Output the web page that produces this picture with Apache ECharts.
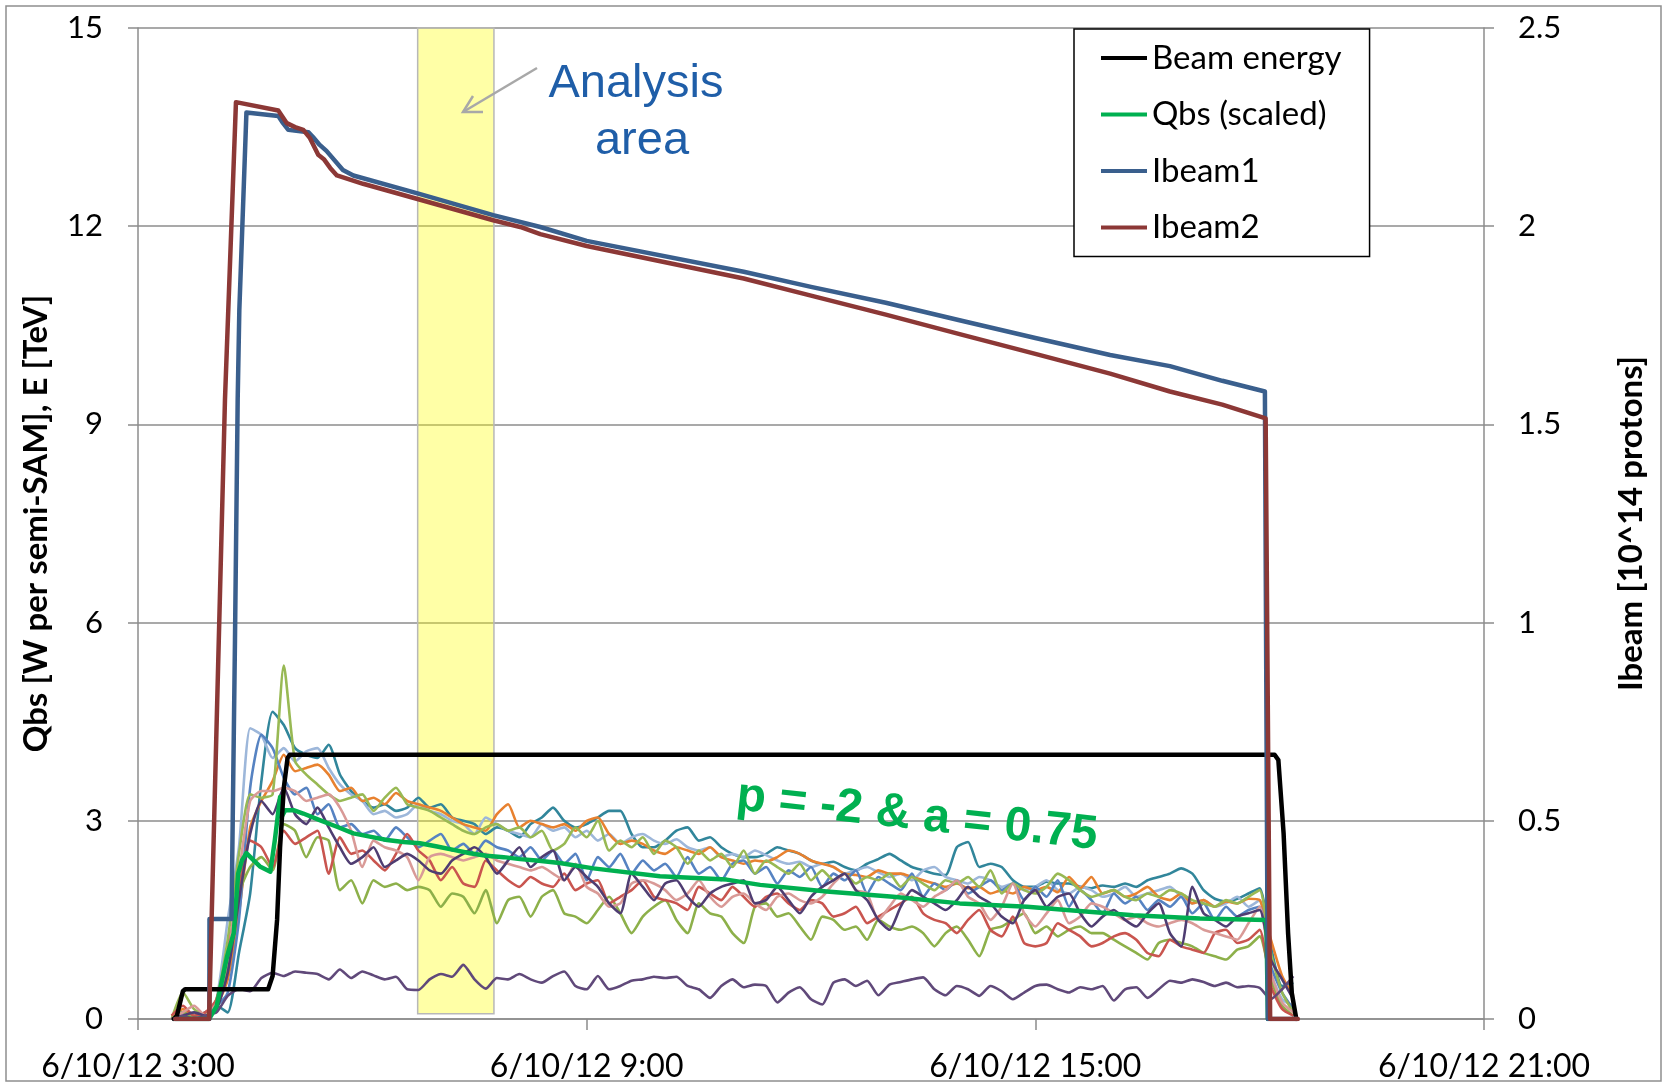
<!DOCTYPE html>
<html><head><meta charset="utf-8">
<script src="https://cdn.jsdelivr.net/npm/echarts@6/dist/echarts.min.js"></script>
<style>html,body{margin:0;padding:0;background:#fff}#c{width:1667px;height:1087px}</style>
</head><body><div id="c"></div><script>
// ---- data (hours of 6/10/12) ----
const xTicks = [3, 9, 15, 21];
const xTickLabels = ['6/10/12 3:00', '6/10/12 9:00', '6/10/12 15:00', '6/10/12 21:00'];
const analysisHours = [6.74, 7.76];
const analysisRange = [0.08, 15.04];

const beamEnergy = [[3.48,0],[3.52,0.05],[3.6,0.42],[3.63,0.45],[4.74,0.45],[4.8,0.65],[4.86,1.5],[4.9,2.6],[4.95,3.5],[5.0,3.95],[5.03,4.0],[18.2,4.0],[18.25,3.92],[18.32,2.81],[18.38,1.3],[18.43,0.39],[18.49,0]];
const qbsScaled = [[3.5,0],[3.95,0],[4.05,0.19],[4.19,0.94],[4.28,1.3],[4.34,2.2],[4.39,2.4],[4.45,2.51],[4.54,2.41],[4.63,2.31],[4.77,2.23],[4.83,2.71],[4.9,3.36],[4.92,3.06],[4.97,3.16],[5.08,3.16],[5.21,3.11],[5.43,3.01],[5.66,2.91],[5.88,2.81],[6.1,2.76],[6.33,2.71],[6.55,2.68],[6.77,2.66],[7.0,2.61],[7.22,2.56],[7.44,2.51],[7.66,2.47],[7.89,2.45],[8.11,2.42],[8.33,2.4],[8.64,2.36],[9.09,2.28],[9.98,2.16],[10.87,2.11],[11.32,2.03],[12.21,1.93],[13.1,1.85],[13.99,1.75],[14.89,1.7],[15.42,1.65],[16.31,1.57],[17.2,1.52],[18.09,1.5],[18.11,0]];
const ibeam1 = [[3.5,0],[3.954,0],[3.956,0.252],[4.25,0.252],[4.297,0.957],[4.333,1.562],[4.355,1.788],[4.45,2.287],[4.876,2.278],[4.94,2.26],[5.01,2.243],[5.28,2.237],[5.34,2.225],[5.43,2.205],[5.52,2.19],[5.74,2.142],[5.88,2.128],[6.75,2.082],[7.75,2.028],[8.38,1.998],[9.0,1.963],[11.1,1.885],[12,1.847],[13,1.807],[14,1.762],[15,1.718],[16,1.675],[16.8,1.647],[17.5,1.61],[18.07,1.583],[18.11,0],[18.5,0]];
const ibeam2 = [[3.5,0],[3.95,0],[4.163,1.562],[4.31,2.313],[4.876,2.292],[4.99,2.26],[5.10,2.25],[5.21,2.243],[5.30,2.222],[5.41,2.18],[5.49,2.168],[5.57,2.147],[5.66,2.128],[6.01,2.107],[6.75,2.068],[7.75,2.015],[8.11,1.998],[8.38,1.98],[9.0,1.95],[11.1,1.868],[12,1.825],[13,1.777],[14,1.727],[15,1.678],[16,1.628],[16.8,1.583],[17.5,1.55],[18.08,1.515],[18.14,0],[18.51,0]];

// sensor sample times (hours) shared by the individual Qbs traces
const sampleHours = [3.45,3.6,3.75,3.9,4.05,4.2,4.35,4.5,4.65,4.8,
4.95,5.1,5.25,5.4,5.55,5.7,5.85,6,6.15,6.3,
6.45,6.6,6.75,6.9,7.05,7.2,7.35,7.5,7.65,7.8,
7.95,8.1,8.25,8.4,8.55,8.7,8.85,9,9.15,9.3,
9.45,9.6,9.75,9.9,10.05,10.2,10.35,10.5,10.65,10.8,
10.95,11.1,11.25,11.4,11.55,11.7,11.85,12,12.15,12.3,
12.45,12.6,12.75,12.9,13.05,13.2,13.35,13.5,13.65,13.8,
13.95,14.1,14.25,14.4,14.55,14.7,14.85,15,15.15,15.3,
15.45,15.6,15.75,15.9,16.05,16.2,16.35,16.5,16.65,16.8,
16.95,17.1,17.25,17.4,17.55,17.7,17.85,18,18.15,18.3,
18.45];
const qTeal = [0.05,0.1,0.05,0.1,0.2,0.1,1.0,1.9,3.6,4.65,
4.45,4.1,4.0,3.95,4.15,3.7,3.45,3.3,3.2,3.25,
3.15,3.2,3.35,3.2,3.25,3.05,3.0,2.95,2.8,2.9,
2.85,2.75,2.95,3.05,3.2,3.0,2.9,2.95,3.05,3.15,
3.15,2.8,2.6,2.6,2.7,2.85,2.9,2.7,2.75,2.6,
2.5,2.45,2.45,2.5,2.6,2.55,2.5,2.4,2.35,2.38,
2.3,2.25,2.35,2.42,2.5,2.4,2.3,2.25,2.2,2.18,
2.6,2.68,2.3,2.35,2.3,2.1,2.0,2.0,2.08,2.05,
2.05,2.0,1.98,2.02,2.0,2.05,2.0,2.1,2.15,2.2,
2.28,2.2,1.95,1.82,1.78,1.82,1.9,1.98,1.1,0.5,
0.55];
const qLightBlue = [0.05,0.0,0.1,0.05,0.3,1.5,2.6,4.4,4.3,3.95,
4.1,3.9,4.05,4.1,3.8,3.55,3.4,3.3,3.1,3.15,
3.05,3.1,3.25,3.15,3.1,3.0,2.95,2.8,3.05,2.95,
2.85,2.8,2.75,2.95,2.85,2.9,2.75,2.85,2.7,2.8,
2.65,2.75,2.8,2.7,2.65,2.72,2.6,2.55,2.6,2.45,
2.5,2.45,2.55,2.48,2.4,2.35,2.38,2.3,2.35,2.3,
2.2,2.25,2.3,2.22,2.15,2.2,2.1,2.25,2.3,2.15,
2.1,2.05,2.15,2.1,2.0,2.05,1.95,2.0,2.1,1.95,
1.9,2.0,1.95,1.85,1.9,2.0,1.85,1.9,1.95,2.0,
1.85,1.75,1.8,1.7,1.75,1.85,1.7,1.8,0.7,0.3,
0.2];
const qOrange = [0.05,0.15,0.05,0.1,0.2,0.6,1.6,2.9,3.3,3.6,
4.0,3.75,3.8,3.85,3.7,3.45,3.5,3.3,3.35,3.25,
3.42,3.3,3.25,3.2,3.15,3.05,2.95,2.9,2.85,3.1,
3.25,2.9,3.0,2.95,2.9,2.95,2.85,3.0,3.05,2.8,
2.65,2.7,2.65,2.55,2.5,2.6,2.55,2.5,2.6,2.45,
2.4,2.35,2.4,2.38,2.45,2.55,2.5,2.4,2.35,2.3,
2.2,2.18,2.15,2.25,2.2,2.2,2.15,2.1,2.05,2.0,
2.05,1.98,2.0,1.9,1.95,1.9,2.0,1.95,2.0,1.92,
2.15,1.98,2.15,1.9,1.95,1.85,1.9,2.0,1.85,1.8,
1.9,1.75,1.8,1.7,1.78,1.75,1.82,1.8,1.2,0.65,
0.35];
const qBlue = [0.0,0.05,0.0,0.1,0.2,0.4,1.5,3.5,4.3,4.1,
3.65,3.4,3.5,3.1,3.25,2.9,2.95,2.8,2.85,2.7,
2.9,2.75,2.6,2.7,2.8,2.55,2.65,2.5,2.7,2.6,
2.55,2.45,2.6,2.4,2.55,2.35,2.5,2.1,2.45,2.3,
2.5,2.2,2.4,2.25,2.35,2.15,2.45,2.2,2.3,2.1,
2.35,2.4,2.2,2.3,2.05,2.25,2.15,2.3,2.0,2.2,
2.1,2.25,1.9,2.15,2.05,1.95,2.2,1.85,2.05,1.95,
2.1,1.9,2.0,2.1,1.95,2.05,1.8,2.0,1.85,2.1,
1.7,1.95,1.8,1.6,1.9,1.75,1.85,1.65,1.8,1.7,
1.85,1.6,1.75,1.5,1.7,1.55,1.65,1.7,0.8,0.4,
0.15];
const qOlive1 = [0.0,0.4,0.15,0.05,0.3,1.2,2.5,3.4,3.35,3.4,
5.35,3.9,3.7,3.55,3.4,3.3,3.35,3.4,3.15,3.35,
3.5,3.25,3.2,3.15,3.05,2.95,2.85,2.8,2.9,2.95,
2.85,2.9,2.75,2.85,2.55,2.65,2.9,2.75,3.0,2.55,
2.7,2.6,2.75,2.5,2.7,2.6,2.35,2.55,2.4,2.5,
2.3,2.55,2.2,2.4,2.3,2.2,2.35,2.1,2.25,2.1,
2.2,2.05,2.15,2.1,2.2,2.0,2.15,2.05,1.95,2.1,
2.05,2.15,2.0,2.25,1.9,2.05,1.95,1.9,2.0,2.2,
2.1,1.95,1.85,1.9,1.95,1.85,1.8,1.9,1.85,1.95,
1.9,1.8,1.75,1.7,1.8,1.75,1.85,1.95,1.0,0.4,
0.1];
const qOlive2 = [0.0,0.1,0.0,0.05,0.15,0.8,1.9,2.3,2.45,2.25,
2.95,2.85,2.45,2.75,2.7,1.95,2.1,1.75,2.1,2.0,
2.05,1.95,2.0,1.95,1.7,1.9,1.85,1.6,1.95,1.45,
1.8,1.85,1.55,1.85,1.95,1.6,1.55,1.45,1.65,1.85,
1.6,1.3,1.55,1.7,1.8,1.5,1.3,1.75,1.6,1.55,
1.3,1.15,1.7,1.75,1.55,1.6,1.4,1.2,1.55,1.5,
1.35,1.4,1.2,1.5,1.4,1.35,1.4,1.3,1.1,1.3,
1.4,1.2,0.95,1.35,1.4,1.5,1.6,1.3,1.4,1.25,
1.35,1.4,1.3,1.3,1.2,1.1,1.0,0.9,1.15,1.2,
1.15,1.1,1.0,0.95,0.9,1.05,1.1,1.25,0.6,0.2,
0.05];
const qRed = [0.05,0.2,0.05,0.1,0.3,1.0,2.0,2.7,2.6,2.3,
2.85,2.65,2.75,2.85,2.2,2.75,2.5,2.55,2.4,2.25,
2.5,2.8,2.55,2.4,2.1,2.3,2.05,2.0,2.4,2.25,
2.1,2.0,2.15,2.05,2.0,2.2,1.95,2.05,2.1,1.75,
1.85,1.95,2.1,1.85,1.8,1.75,1.65,2.0,1.9,1.8,
2.0,1.85,1.7,1.85,1.9,1.75,1.65,1.8,1.75,1.55,
1.6,1.7,1.45,1.55,1.65,1.75,1.85,1.6,1.5,1.45,
1.3,1.5,1.65,1.35,1.25,1.55,1.15,1.1,1.15,1.45,
1.35,1.25,1.1,1.15,1.25,1.3,1.2,1.0,0.95,1.2,
1.1,1.05,1.0,1.3,1.35,1.15,1.2,1.35,0.5,0.15,
0.05];
const qPink = [0.0,0.1,0.2,0.05,0.25,0.9,2.2,3.3,3.45,3.45,
3.5,3.45,3.3,3.35,3.4,3.2,2.85,2.3,2.7,2.6,
2.55,2.45,2.1,2.45,2.5,2.45,2.4,2.45,2.5,2.4,
2.35,2.3,2.25,2.3,2.2,2.1,2.35,2.0,1.9,1.7,
1.75,2.05,2.1,2.05,1.95,1.8,1.9,2.1,1.85,1.7,
1.85,1.9,1.75,1.65,1.85,1.9,1.8,1.75,1.85,2.05,
2.2,1.95,1.9,1.5,1.7,1.9,1.8,1.7,1.85,1.95,
2.1,1.85,1.75,1.5,1.7,2.05,1.6,1.4,1.6,1.8,
1.45,1.55,1.75,1.7,1.6,1.5,1.55,1.45,1.4,1.45,
1.5,1.45,1.35,1.3,1.25,1.2,1.45,1.7,0.7,0.25,
0.1];
const qDarkPurple = [0.0,0.05,0.1,0.05,0.15,0.7,1.8,2.8,3.3,3.1,
3.5,3.1,2.95,3.2,2.9,2.6,2.35,2.45,2.6,2.3,
2.4,2.5,2.4,2.25,2.2,2.4,2.5,2.6,2.45,2.2,
2.4,2.6,2.3,2.45,2.55,2.1,2.3,2.15,2.0,1.75,
1.6,2.2,2.0,1.8,2.05,2.1,1.85,1.7,1.9,2.0,
2.05,2.1,1.75,1.8,2.0,1.8,1.6,1.85,2.0,2.1,
2.2,1.95,1.8,1.5,1.35,1.7,1.95,1.85,1.75,1.65,
1.8,2.0,1.85,1.75,1.55,1.45,1.8,1.95,1.7,1.85,
1.9,1.6,1.4,1.55,1.65,1.5,1.4,1.6,1.75,1.3,
1.1,2.0,1.6,1.5,1.4,1.55,1.6,1.65,0.9,0.6,
0.3];
const qLowPurple = [0.0,0.05,0.0,0.05,0.1,0.35,0.45,0.42,0.62,0.7,
0.65,0.72,0.7,0.68,0.6,0.75,0.62,0.72,0.66,0.6,
0.64,0.45,0.44,0.6,0.68,0.64,0.82,0.6,0.46,0.62,
0.6,0.68,0.6,0.55,0.65,0.72,0.5,0.45,0.65,0.45,
0.5,0.58,0.6,0.64,0.62,0.64,0.5,0.45,0.32,0.5,
0.6,0.48,0.52,0.5,0.25,0.4,0.48,0.3,0.22,0.55,
0.6,0.5,0.58,0.36,0.52,0.56,0.6,0.63,0.45,0.36,
0.5,0.45,0.35,0.5,0.42,0.3,0.4,0.5,0.52,0.45,
0.4,0.48,0.45,0.5,0.28,0.45,0.48,0.32,0.45,0.58,
0.55,0.6,0.56,0.5,0.55,0.48,0.5,0.47,0.3,0.45,
0.65];

// ---- styling ----
const traces = [
  {name: 'SAM teal', data: qTeal, color: '#31869B'},
  {name: 'SAM light blue', data: qLightBlue, color: '#9DB7DA'},
  {name: 'SAM orange', data: qOrange, color: '#E8812F'},
  {name: 'SAM blue', data: qBlue, color: '#5683C2'},
  {name: 'SAM olive 1', data: qOlive1, color: '#98B954'},
  {name: 'SAM olive 2', data: qOlive2, color: '#8DB04A'},
  {name: 'SAM red', data: qRed, color: '#C9554F'},
  {name: 'SAM pink', data: qPink, color: '#D99A97'},
  {name: 'SAM purple', data: qDarkPurple, color: '#4F3D72'},
  {name: 'SAM low', data: qLowPurple, color: '#60497A'}
];
const FONT = 'Lato';
const GRID = '#8c8c8c';

const series = traces.map(t => ({
  type: 'line', name: t.name, yAxisIndex: 0, showSymbol: false, smooth: 0.2,
  data: sampleHours.map((h, i) => [h, t.data[i]]),
  lineStyle: {width: 2.6, color: t.color, join: 'round'}, itemStyle: {color: t.color}, z: 2
}));
series.push(
  {type: 'line', name: 'Qbs (scaled)', yAxisIndex: 0, showSymbol: false, data: qbsScaled,
   lineStyle: {width: 4.5, color: '#00B050', cap: 'round', join: 'round'}, itemStyle: {color: '#00B050'}, z: 3},
  {type: 'line', name: 'Beam energy', yAxisIndex: 0, showSymbol: false, data: beamEnergy,
   lineStyle: {width: 4.5, color: '#000000', cap: 'round', join: 'round'}, itemStyle: {color: '#000000'}, z: 4},
  {type: 'line', name: 'Ibeam1', yAxisIndex: 1, showSymbol: false, data: ibeam1,
   lineStyle: {width: 4.5, color: '#3A5F8D', cap: 'round', join: 'round'}, itemStyle: {color: '#3A5F8D'}, z: 5},
  {type: 'line', name: 'Ibeam2', yAxisIndex: 1, showSymbol: false, data: ibeam2,
   lineStyle: {width: 4.5, color: '#8C3836', cap: 'round', join: 'round'}, itemStyle: {color: '#8C3836'}, z: 6},
  {type: 'line', name: 'analysis', yAxisIndex: 0, data: [], z: 20, silent: true,
   markArea: {silent: true,
     itemStyle: {color: 'rgba(255,255,0,0.35)', borderColor: '#b8b8b8', borderWidth: 1.5},
     data: [[{xAxis: analysisHours[0], yAxis: analysisRange[0]}, {xAxis: analysisHours[1], yAxis: analysisRange[1]}]]}}
);

const chart = echarts.init(document.getElementById('c'), null, {renderer: 'canvas'});
chart.setOption({
  animation: false,
  backgroundColor: '#ffffff',
  grid: {left: 138, right: 183, top: 28, bottom: 68},
  legend: {
    data: ['Beam energy', 'Qbs (scaled)', 'Ibeam1', 'Ibeam2'],
    orient: 'vertical', left: 1074, top: 29, padding: [12, 28, 12, 27],
    itemGap: 22.5, itemWidth: 46, itemHeight: 4, icon: 'rect',
    borderColor: '#000', borderWidth: 1.5, backgroundColor: '#fff',
    selectedMode: false, z: 30,
    textStyle: {fontFamily: FONT, fontSize: 33, color: '#000', lineHeight: 34}
  },
  xAxis: {
    type: 'value', min: 3, max: 21, interval: 6,
    axisLine: {show: true, onZero: false, lineStyle: {color: GRID, width: 1.5}},
    axisTick: {show: true, length: 11, lineStyle: {color: GRID, width: 1.5}},
    splitLine: {show: false},
    axisLabel: {color: '#000', fontFamily: FONT, fontSize: 32, margin: 32,
      formatter: v => xTickLabels[xTicks.indexOf(v)] || ''}
  },
  yAxis: [
    {type: 'value', min: 0, max: 15, interval: 3, position: 'left',
     name: 'Qbs [W per semi-SAM], E [TeV]', nameLocation: 'middle', nameRotate: 90, nameGap: 85,
     nameTextStyle: {fontFamily: FONT, fontWeight: 'bold', fontSize: 33, color: '#000'},
     axisLine: {show: true, lineStyle: {color: GRID, width: 1.5}},
     axisTick: {show: true, length: 10, lineStyle: {color: GRID, width: 1.5}},
     splitLine: {show: true, lineStyle: {color: GRID, width: 1.5}},
     axisLabel: {color: '#000', fontFamily: FONT, fontSize: 31, margin: 35}},
    {type: 'value', min: 0, max: 2.5, interval: 0.5, position: 'right',
     name: 'Ibeam [10^14 protons]', nameLocation: 'middle', nameRotate: 90, nameGap: 131,
     nameTextStyle: {fontFamily: FONT, fontWeight: 'bold', fontSize: 33, color: '#000'},
     axisLine: {show: true, lineStyle: {color: GRID, width: 1.5}},
     axisTick: {show: true, length: 10, lineStyle: {color: GRID, width: 1.5}},
     splitLine: {show: false},
     axisLabel: {color: '#000', fontFamily: FONT, fontSize: 31, margin: 34}}
  ],
  graphic: [
    {type: 'rect', silent: true, z: -10, shape: {x: 6, y: 6, width: 1655, height: 1075},
     style: {fill: null, stroke: '#8f8f8f', lineWidth: 1.5}},
    {type: 'line', silent: true, z: 40, shape: {x1: 537, y1: 68, x2: 463, y2: 112},
     style: {stroke: '#a8a8a8', lineWidth: 2.5}},
    {type: 'polyline', silent: true, z: 40, shape: {points: [[483, 112], [463, 112], [473, 96]]},
     style: {stroke: '#a8a8a8', lineWidth: 2.5, fill: null}},
    {type: 'text', silent: true, z: 40, x: 636, y: 84,
     style: {text: 'Analysis', fill: '#1F5EA8', font: '47px "Liberation Sans"', textAlign: 'center', textVerticalAlign: 'middle'}},
    {type: 'text', silent: true, z: 40, x: 642, y: 141,
     style: {text: 'area', fill: '#1F5EA8', font: '47px "Liberation Sans"', textAlign: 'center', textVerticalAlign: 'middle'}},
    {type: 'text', silent: true, z: 40, x: 917, y: 816, rotation: -0.11,
     style: {text: 'p = -2 & a = 0.75', fill: '#00B050', font: 'bold 48px "Liberation Sans"', textAlign: 'center', textVerticalAlign: 'middle'}}
  ],
  series: series
});
</script></body></html>
